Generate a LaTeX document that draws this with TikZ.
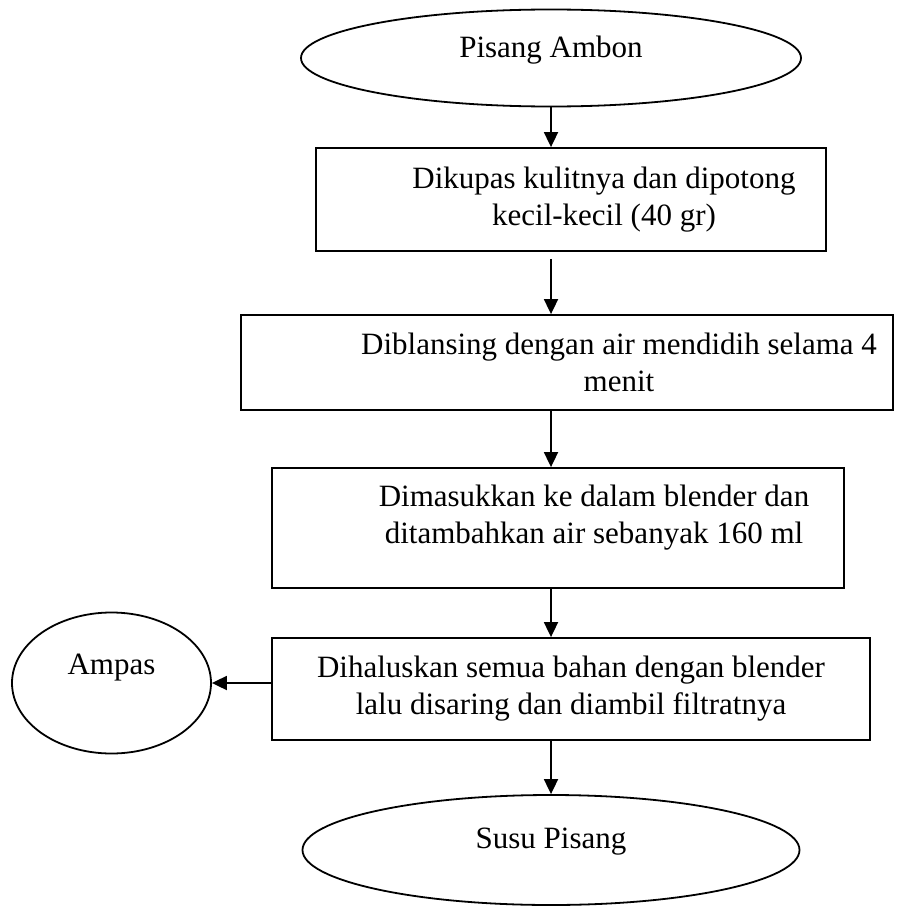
\documentclass[tikz,border=0pt]{standalone}
\usepackage{fontspec}
\setmainfont{Liberation Serif}
\usetikzlibrary{positioning, arrows.meta, shapes.geometric}

\tikzset{
    endpoint/.style={draw, ellipse, line width=1.8pt, inner sep=0pt,
        font={\fontsize{31}{37}\selectfont}},
    stepbox/.style={draw, rectangle, line width=1.8pt, inner sep=0pt,
        align=center, font={\fontsize{31}{37}\selectfont}},
    flowarrow/.style={-{Triangle[length=15pt,width=14pt]}, line width=1.8pt}
}

\begin{document}
\begin{tikzpicture}[x=1pt, y=-1pt]
    \useasboundingbox (0,0) rectangle (913,907);

    % start and end of the process
    \node[endpoint, minimum width=500pt, minimum height=97pt, text depth=23pt]
        (ambon) at (551,58) {Pisang Ambon};
    \node[endpoint, minimum width=497pt, minimum height=110pt, text depth=23pt]
        (susu) at (551,850) {Susu Pisang};
    \node[endpoint, minimum width=199pt, minimum height=141pt, text depth=37pt]
        (ampas) at (111.5,683) {Ampas};

    % process steps
    \node[stepbox, minimum width=510pt, minimum height=103pt] (kupas) at (571,199.5) {
        \hspace*{66pt}Dikupas kulitnya dan dipotong\\
        \hspace*{66pt}kecil-kecil (40 gr)
    };
    \node[stepbox, minimum width=652pt, minimum height=95pt] (blansing) at (567,362.5) {
        \hspace*{104pt}Diblansing dengan air mendidih selama 4\\
        \hspace*{104pt}menit
    };
    \node[stepbox, minimum width=572pt, minimum height=120pt, text depth=27pt]
        (blender) at (558,528) {
        \hspace*{72pt}Dimasukkan ke dalam blender dan\\
        \hspace*{72pt}ditambahkan air sebanyak 160 ml
    };
    \node[stepbox, minimum width=598pt, minimum height=102pt] (haluskan) at (571,689) {
        Dihaluskan semua bahan dengan blender\\
        lalu disaring dan diambil filtratnya
    };

    % connectors
    \draw[flowarrow] (ambon.south) -- (ambon.south |- kupas.north);
    \draw[flowarrow, shorten <=7pt] (ambon.south |- kupas.south) -- (ambon.south |- blansing.north);
    \draw[flowarrow] (ambon.south |- blansing.south) -- (ambon.south |- blender.north);
    \draw[flowarrow] (ambon.south |- blender.south) -- (ambon.south |- haluskan.north);
    \draw[flowarrow] (ambon.south |- haluskan.south) -- (susu.north);
    \draw[flowarrow] (haluskan.west |- ampas.east) -- (ampas.east);
\end{tikzpicture}
\end{document}
